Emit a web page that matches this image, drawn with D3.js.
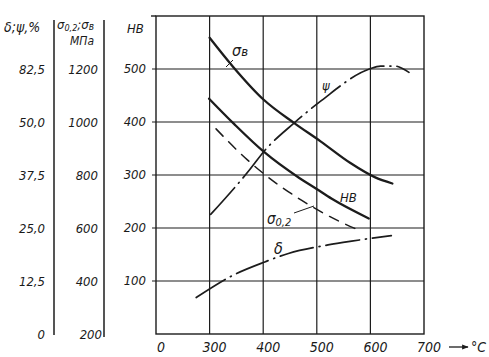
<!DOCTYPE html>
<html><head><meta charset="utf-8">
<script src="https://cdn.jsdelivr.net/npm/d3@7"></script>
<style>
html,body{margin:0;padding:0;background:#fff;}
text{font-family:"Liberation Sans Narrow","DejaVu Sans Condensed","Liberation Sans",sans-serif;font-style:italic;fill:#1a1a1a;}
</style></head>
<body>
<svg id="c" width="489" height="357"></svg>
<script>
// ---- data ----
const tempGrid = [300, 400, 500, 600];
const tempLabels = [
  {t: 200, label: "0"}, {t: 300, label: "300"}, {t: 400, label: "400"},
  {t: 500, label: "500"}, {t: 600, label: "600"}, {t: 700, label: "700"}
];
const hbTicks = [100, 200, 300, 400, 500];
const pctTicks = [0, 12.5, 25, 37.5, 50, 62.5];
const pctLabels = ["0", "12,5", "25,0", "37,5", "50,0", "82,5"];
const mpaTicks = [200, 400, 600, 800, 1000, 1200];

const sigmaBT = [300, 344, 401, 458, 507, 562, 608, 641];
const sigmaBV = [1318, 1208, 1084, 996, 927, 846, 792, 768];
const sigma02T = [312, 370, 399, 472, 541, 583];
const sigma02V = [974, 858, 808, 704, 626, 588];
const hbT = [299, 346, 401, 468, 499, 528, 597];
const hbV = [444, 396, 344, 294, 274, 255, 218];
const psiT = [302, 375, 401, 458, 509, 598, 619, 645, 672];
const psiV = [28.2, 38.8, 43, 49.8, 55.1, 62.5, 63.2, 63.2, 61.7];
const deltaT = [275, 346, 403, 447, 521, 565, 639];
const deltaV = [8.6, 14, 17, 19, 21, 21.9, 23.2];

// ---- scales ----
const L = 156, R = 424, T = 16, B = 334;
const x = d3.scaleLinear().domain([200, 700]).range([L, R]);
const yHB = d3.scaleLinear().domain([0, 600]).range([B, T]);
const yMPa = d3.scaleLinear().domain([200, 1400]).range([B, T]);
const yPct = d3.scaleLinear().domain([0, 75]).range([B, T]);

const svg = d3.select("#c");
const ink = "#1c1c1c";

// frame
svg.append("rect").attr("x", L).attr("y", T).attr("width", R - L).attr("height", B - T)
  .attr("fill", "none").attr("stroke", ink).attr("stroke-width", 1.4);

// grid
svg.append("g").selectAll("line").data(tempGrid).join("line")
  .attr("x1", d => x(d)).attr("x2", d => x(d)).attr("y1", T).attr("y2", B)
  .attr("stroke", ink).attr("stroke-width", 1.2);
svg.append("g").selectAll("line").data(hbTicks).join("line")
  .attr("x1", L - 4).attr("x2", R).attr("y1", d => yHB(d)).attr("y2", d => yHB(d))
  .attr("stroke", ink).attr("stroke-width", 1.2);
svg.append("line").attr("x1", L - 5).attr("x2", L).attr("y1", T).attr("y2", T)
  .attr("stroke", ink).attr("stroke-width", 1.4);

// HB tick labels
svg.append("g").selectAll("text").data(hbTicks).join("text")
  .attr("x", L - 10).attr("y", d => yHB(d) + 4).attr("text-anchor", "end")
  .attr("font-size", 13).text(d => d);
svg.append("text").attr("x", 127).attr("y", 33).attr("font-size", 13).text("HB");

// left axes
svg.append("line").attr("x1", 54).attr("x2", 54).attr("y1", 20).attr("y2", 335)
  .attr("stroke", ink).attr("stroke-width", 1.5);
svg.append("line").attr("x1", 104).attr("x2", 104).attr("y1", 20).attr("y2", 337)
  .attr("stroke", ink).attr("stroke-width", 1.5);

svg.append("g").selectAll("text").data(pctTicks).join("text")
  .attr("x", 45).attr("y", d => yPct(d) + 5).attr("text-anchor", "end")
  .attr("font-size", 13).text((d, i) => pctLabels[i]);
svg.append("g").selectAll("text").data(mpaTicks).join("text")
  .attr("x", d => d === 200 ? 102 : 98).attr("y", d => yMPa(d) + 5).attr("text-anchor", "end")
  .attr("font-size", 13).text(d => d);

svg.append("text").attr("x", 4).attr("y", 32).attr("font-size", 14).text("δ;ψ,%");
const st = svg.append("text").attr("x", 57).attr("y", 29).attr("font-size", 13);
st.append("tspan").text("σ");
st.append("tspan").attr("font-size", 9).attr("dy", 2).text("0,2");
st.append("tspan").attr("dy", -2).text(";σ");
st.append("tspan").attr("font-size", 10).attr("dy", 1).text("в");
svg.append("text").attr("x", 70).attr("y", 45).attr("font-size", 12).text("МПа");

// x tick labels
svg.append("g").selectAll("text").data(tempLabels).join("text")
  .attr("x", d => x(d.t) + 5).attr("y", 352).attr("text-anchor", "middle")
  .attr("font-size", 14).text(d => d.label);
svg.append("defs").append("marker").attr("id", "ah").attr("viewBox", "0 0 10 10")
  .attr("refX", 9).attr("refY", 5).attr("markerWidth", 7).attr("markerHeight", 5)
  .attr("orient", "auto").append("path").attr("d", "M0,1L10,5L0,9Z").attr("fill", ink);
svg.append("line").attr("x1", 449).attr("x2", 468).attr("y1", 347).attr("y2", 347)
  .attr("stroke", ink).attr("stroke-width", 1.3).attr("marker-end", "url(#ah)");
svg.append("text").attr("x", 471).attr("y", 352).attr("font-size", 14).text("°C");

// curves
function draw(ts, vs, ys, dash, w) {
  const pts = ts.map((t, i) => [x(t), ys(vs[i])]);
  svg.append("path").attr("d", d3.line().curve(d3.curveMonotoneX)(pts))
    .attr("fill", "none").attr("stroke", ink).attr("stroke-width", w)
    .attr("stroke-dasharray", dash).attr("stroke-linecap", "round");
}
draw(sigmaBT, sigmaBV, yMPa, null, 2.3);
draw(hbT, hbV, yHB, null, 2.3);
draw(sigma02T, sigma02V, yMPa, "10,8", 1.5);
draw(psiT, psiV, yPct, "36,6,1,6", 1.7);
draw(deltaT, deltaV, yPct, "34,6,1,6", 1.7);

// curve labels
const sb = svg.append("text").attr("x", 232).attr("y", 56).attr("font-size", 16);
sb.append("tspan").text("σ");
sb.append("tspan").attr("font-size", 13).text("в");
svg.append("line").attr("x1", 226).attr("y1", 67).attr("x2", 233).attr("y2", 60)
  .attr("stroke", ink).attr("stroke-width", 1);
svg.append("text").attr("x", 322).attr("y", 90).attr("font-size", 13).text("ψ");
svg.append("text").attr("x", 340).attr("y", 202).attr("font-size", 13).text("HB");
const s2 = svg.append("text").attr("x", 267).attr("y", 224).attr("font-size", 15);
s2.append("tspan").text("σ");
s2.append("tspan").attr("font-size", 11).attr("dy", 2).text("0,2");
svg.append("line").attr("x1", 294).attr("y1", 213).attr("x2", 314).attr("y2", 206)
  .attr("stroke", ink).attr("stroke-width", 1);
svg.append("text").attr("x", 274).attr("y", 254).attr("font-size", 16).text("δ");
</script>
</body></html>
